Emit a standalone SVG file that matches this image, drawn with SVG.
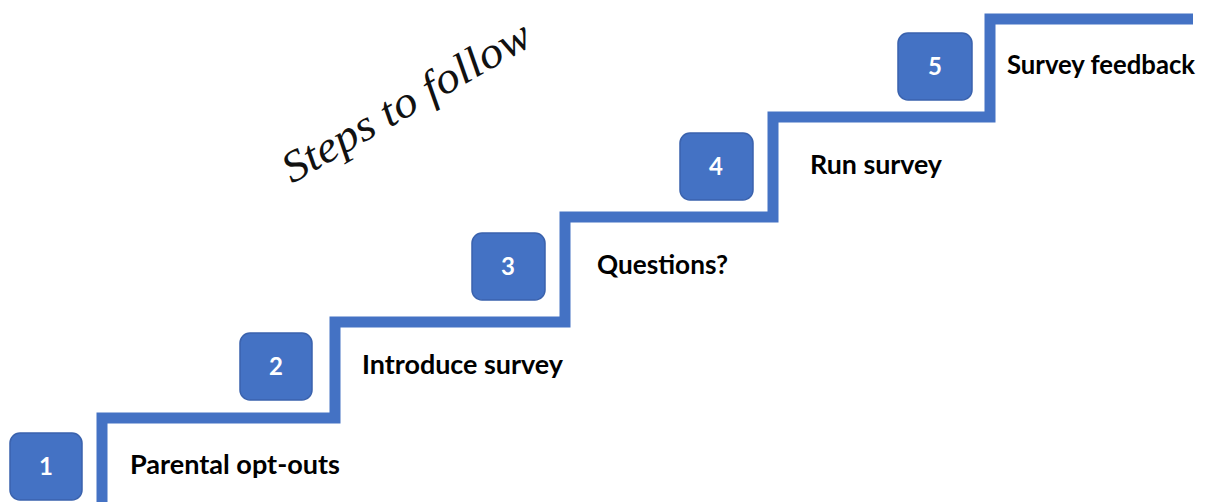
<svg xmlns="http://www.w3.org/2000/svg" width="1207" height="502" viewBox="0 0 1207 502">
  <style>
    .stair { fill: none; stroke: #4472C4; stroke-width: 11; stroke-linejoin: miter; }
    .box { fill: #4472C4; stroke: #3A62AD; stroke-width: 1.5; }
    .num { font-family: Lato, "Liberation Sans", sans-serif; font-weight: bold; font-size: 24px; fill: #FFFFFF; text-anchor: middle; }
    .label { font-family: Lato, "Liberation Sans", sans-serif; font-weight: bold; font-size: 26px; fill: #000000; }
    .title { font-family: "Liberation Serif", "DejaVu Serif", serif; font-style: italic; font-size: 44px; fill: #111111; }
  </style>

  <!-- staircase line -->
  <g id="connectors">
    <polyline class="stair" points="102,502 102,418 335,418 335,322 565,322 565,217 773,217 773,117 990,117 990,19 1193,19"/>
  </g>

  <!-- handwritten heading -->
  <text class="title" transform="translate(292,184) rotate(-30)" textLength="280" lengthAdjust="spacingAndGlyphs">Steps to follow</text>

  <g id="step1">
    <rect class="box" x="10" y="433" width="72" height="67" rx="10"/>
    <text class="num" x="46" y="475">1</text>
    <text class="label" x="130" y="474" textLength="210" lengthAdjust="spacingAndGlyphs">Parental opt-outs</text>
  </g>

  <g id="step2">
    <rect class="box" x="240" y="333" width="72" height="67" rx="10"/>
    <text class="num" x="276" y="375">2</text>
    <text class="label" x="362" y="374" textLength="201" lengthAdjust="spacingAndGlyphs">Introduce survey</text>
  </g>

  <g id="step3">
    <rect class="box" x="472" y="233" width="73" height="67" rx="10"/>
    <text class="num" x="508" y="275">3</text>
    <text class="label" x="597" y="274" textLength="131" lengthAdjust="spacingAndGlyphs">Questions?</text>
  </g>

  <g id="step4">
    <rect class="box" x="680" y="133" width="73" height="67" rx="10"/>
    <text class="num" x="716" y="175">4</text>
    <text class="label" x="810" y="174" textLength="132" lengthAdjust="spacingAndGlyphs">Run survey</text>
  </g>

  <g id="step5">
    <rect class="box" x="898" y="33" width="74" height="67" rx="10"/>
    <text class="num" x="935" y="75">5</text>
    <text class="label" x="1007" y="74" textLength="188" lengthAdjust="spacingAndGlyphs">Survey feedback</text>
  </g>
</svg>
